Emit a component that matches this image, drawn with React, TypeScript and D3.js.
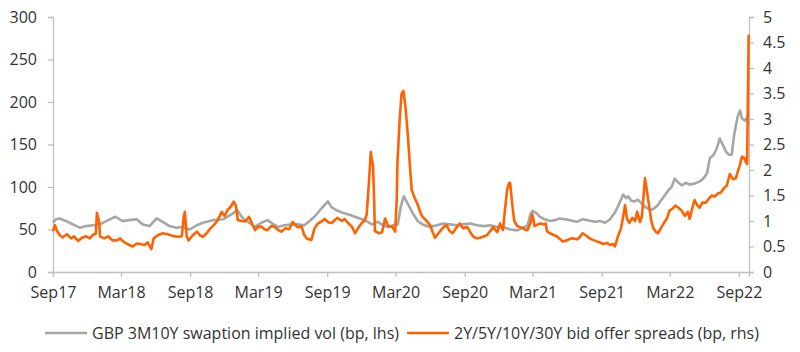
import { useEffect, useRef } from 'react';
import * as d3 from 'd3';

// GBP 3M10Y swaption implied vol (bp, lhs)
const volDates = [
  '2017-09-01', '2017-09-09', '2017-09-19', '2017-10-05', '2017-10-24', '2017-11-12', '2017-11-28',
  '2017-12-16', '2018-01-04', '2018-01-26', '2018-02-14', '2018-03-05', '2018-03-23', '2018-04-12',
  '2018-04-28', '2018-05-16', '2018-06-04', '2018-06-20', '2018-07-08', '2018-07-27', '2018-08-12',
  '2018-08-31', '2018-09-19', '2018-10-05', '2018-11-01', '2018-11-28', '2018-12-21', '2019-01-04',
  '2019-01-20', '2019-02-08', '2019-02-21', '2019-03-10', '2019-03-26', '2019-04-08', '2019-04-22',
  '2019-05-10', '2019-05-29', '2019-06-14', '2019-07-02', '2019-07-16', '2019-07-29', '2019-08-17',
  '2019-08-28', '2019-09-03', '2019-09-13', '2019-09-29', '2019-10-17', '2019-11-01', '2019-11-14',
  '2019-11-27', '2019-12-10', '2019-12-29', '2020-01-14', '2020-01-28', '2020-02-10', '2020-02-24',
  '2020-03-07', '2020-03-15', '2020-03-23', '2020-04-03', '2020-04-16', '2020-04-29', '2020-05-12',
  '2020-06-01', '2020-06-19', '2020-07-05', '2020-07-23', '2020-08-11', '2020-08-27', '2020-09-16',
  '2020-10-04', '2020-10-23', '2020-11-08', '2020-11-27', '2020-12-12', '2020-12-31', '2021-01-19',
  '2021-02-02', '2021-02-15', '2021-02-23', '2021-03-01', '2021-03-12', '2021-03-20', '2021-04-02',
  '2021-04-16', '2021-04-29', '2021-05-12', '2021-05-25', '2021-06-08', '2021-06-27', '2021-07-12',
  '2021-07-25', '2021-08-14', '2021-08-27', '2021-09-10', '2021-09-23', '2021-10-06', '2021-10-14',
  '2021-10-22', '2021-10-28', '2021-11-05', '2021-11-10', '2021-11-18', '2021-11-26', '2021-12-07',
  '2021-12-17', '2021-12-28', '2022-01-08', '2022-01-16', '2022-01-27', '2022-02-07', '2022-02-17',
  '2022-02-25', '2022-03-06', '2022-03-14', '2022-03-22', '2022-04-02', '2022-04-13', '2022-04-23',
  '2022-05-06', '2022-05-17', '2022-05-25', '2022-06-02', '2022-06-08', '2022-06-16', '2022-06-26',
  '2022-07-04', '2022-07-12', '2022-07-20', '2022-07-28', '2022-08-05', '2022-08-13', '2022-08-19',
  '2022-08-24', '2022-08-29', '2022-09-04', '2022-09-09', '2022-09-17', '2022-09-25',
];
const volValues = [
  58, 62, 63, 60, 56, 52, 54,
  55, 56, 61, 65, 60, 61, 62,
  56, 54, 63, 59, 54, 52, 53,
  50, 55, 58, 61, 62, 68, 73,
  63, 57, 53, 58, 61, 57, 53,
  55, 56, 56, 55, 60, 65, 75,
  80, 83, 76, 72, 69, 67, 65,
  63, 61, 56, 59, 55, 53, 55,
  56, 77, 89, 80, 69, 60, 56,
  53, 55, 57, 56, 55, 56, 57,
  55, 54, 55, 53, 53, 50, 49,
  52, 54, 68, 72, 69, 65, 62,
  60, 61, 63, 62, 61, 59, 62,
  61, 59, 60, 58, 62, 70, 77,
  85, 91, 87, 89, 84, 83, 85,
  80, 76, 73, 74, 78, 85, 91,
  96, 100, 110, 106, 102, 105, 103,
  104, 106, 108, 112, 116, 134, 138,
  145, 157, 150, 142, 138, 138, 160,
  172, 183, 190, 181, 178, 183,
];

// 2Y/5Y/10Y/30Y bid offer spreads (bp, rhs)
const spreadDates = [
  '2017-09-01', '2017-09-06', '2017-09-12', '2017-09-19', '2017-09-27', '2017-10-08', '2017-10-19',
  '2017-10-27', '2017-11-07', '2017-11-17', '2017-11-28', '2017-12-08', '2017-12-16', '2017-12-24',
  '2017-12-27', '2018-01-02', '2018-01-04', '2018-01-15', '2018-01-26', '2018-02-06', '2018-02-19',
  '2018-02-27', '2018-03-10', '2018-03-21', '2018-04-01', '2018-04-12', '2018-04-22', '2018-05-03',
  '2018-05-11', '2018-05-21', '2018-05-27', '2018-06-07', '2018-06-20', '2018-07-03', '2018-07-16',
  '2018-07-29', '2018-08-10', '2018-08-15', '2018-08-18', '2018-08-23', '2018-08-28', '2018-09-08',
  '2018-09-19', '2018-09-27', '2018-10-05', '2018-10-15', '2018-10-23', '2018-11-03', '2018-11-11',
  '2018-11-19', '2018-11-24', '2018-12-02', '2018-12-10', '2018-12-18', '2018-12-26', '2019-01-01',
  '2019-01-06', '2019-01-17', '2019-01-25', '2019-02-05', '2019-02-13', '2019-02-21', '2019-02-27',
  '2019-03-10', '2019-03-18', '2019-03-26', '2019-04-05', '2019-04-13', '2019-04-24', '2019-05-02',
  '2019-05-13', '2019-05-23', '2019-06-01', '2019-06-06', '2019-06-14', '2019-06-25', '2019-07-02',
  '2019-07-10', '2019-07-21', '2019-07-29', '2019-08-07', '2019-08-17', '2019-08-25', '2019-09-05',
  '2019-09-13', '2019-09-21', '2019-09-29', '2019-10-10', '2019-10-17', '2019-10-28', '2019-11-06',
  '2019-11-14', '2019-11-24', '2019-12-02', '2019-12-10', '2019-12-15', '2019-12-21', '2019-12-26',
  '2019-12-29', '2020-01-01', '2020-01-04', '2020-01-06', '2020-01-17', '2020-01-25', '2020-02-02',
  '2020-02-10', '2020-02-21', '2020-02-29', '2020-03-04', '2020-03-06', '2020-03-12', '2020-03-17',
  '2020-03-22', '2020-03-28', '2020-04-03', '2020-04-08', '2020-04-13', '2020-04-21', '2020-04-29',
  '2020-05-07', '2020-05-12', '2020-05-23', '2020-06-01', '2020-06-08', '2020-06-14', '2020-06-22',
  '2020-06-30', '2020-07-07', '2020-07-15', '2020-07-23', '2020-07-31', '2020-08-11', '2020-08-19',
  '2020-08-27', '2020-09-08', '2020-09-16', '2020-09-24', '2020-10-04', '2020-10-12', '2020-10-23',
  '2020-10-31', '2020-11-08', '2020-11-16', '2020-11-27', '2020-12-04', '2020-12-12', '2020-12-17',
  '2020-12-23', '2020-12-28', '2020-12-31', '2021-01-06', '2021-01-11', '2021-01-19', '2021-01-27',
  '2021-02-07', '2021-02-15', '2021-02-23', '2021-02-28', '2021-03-04', '2021-03-06', '2021-03-14',
  '2021-03-22', '2021-03-30', '2021-04-05', '2021-04-08', '2021-04-16', '2021-04-24', '2021-05-04',
  '2021-05-12', '2021-05-20', '2021-05-31', '2021-06-08', '2021-06-16', '2021-06-27', '2021-07-04',
  '2021-07-12', '2021-07-20', '2021-07-31', '2021-08-08', '2021-08-19', '2021-08-27', '2021-09-05',
  '2021-09-15', '2021-09-23', '2021-10-01', '2021-10-06', '2021-10-14', '2021-10-22', '2021-10-27',
  '2021-11-02', '2021-11-07', '2021-11-13', '2021-11-21', '2021-11-29', '2021-12-04', '2021-12-12',
  '2021-12-17', '2021-12-25', '2021-12-30', '2022-01-05', '2022-01-11', '2022-01-16', '2022-01-24',
  '2022-01-29', '2022-02-07', '2022-02-15', '2022-02-22', '2022-02-28', '2022-03-08', '2022-03-16',
  '2022-03-24', '2022-04-02', '2022-04-10', '2022-04-18', '2022-04-23', '2022-04-28', '2022-05-06',
  '2022-05-14', '2022-05-19', '2022-05-27', '2022-06-05', '2022-06-13', '2022-06-21', '2022-06-29',
  '2022-07-07', '2022-07-15', '2022-07-23', '2022-07-31', '2022-08-08', '2022-08-16', '2022-08-24',
  '2022-08-29', '2022-09-04', '2022-09-09', '2022-09-15', '2022-09-20', '2022-09-23', '2022-09-27',
];
const spreadValues = [
  0.80, 0.92, 0.80, 0.72, 0.68, 0.74, 0.66,
  0.70, 0.61, 0.67, 0.70, 0.66, 0.73, 0.75,
  1.16, 0.98, 0.70, 0.66, 0.70, 0.62, 0.62,
  0.66, 0.58, 0.54, 0.50, 0.56, 0.55, 0.53,
  0.58, 0.45, 0.66, 0.72, 0.76, 0.74, 0.71,
  0.69, 0.70, 1.08, 1.18, 0.70, 0.62, 0.72,
  0.79, 0.72, 0.69, 0.76, 0.84, 0.92, 0.99,
  1.10, 1.18, 1.10, 1.22, 1.28, 1.38, 1.30,
  1.02, 1.00, 0.99, 1.08, 0.95, 0.82, 0.88,
  0.89, 0.84, 0.82, 0.90, 0.89, 0.82, 0.79,
  0.86, 0.84, 0.98, 0.94, 0.88, 0.89, 0.72,
  0.65, 0.63, 0.85, 0.95, 0.99, 1.04, 0.97,
  0.96, 1.02, 1.06, 1.00, 1.04, 0.95, 0.89,
  0.76, 0.88, 0.96, 1.02, 1.12, 1.74, 2.35,
  2.20, 2.10, 1.40, 0.80, 0.76, 0.78, 1.05,
  0.90, 0.89, 0.79, 1.40, 2.14, 3.00, 3.50,
  3.55, 3.20, 2.65, 2.10, 1.61, 1.45, 1.32,
  1.15, 1.08, 1.00, 0.92, 0.78, 0.67, 0.75,
  0.82, 0.88, 0.92, 0.80, 0.76, 0.88, 0.95,
  0.86, 0.88, 0.78, 0.69, 0.66, 0.67, 0.70,
  0.73, 0.80, 0.88, 0.78, 0.95, 0.82, 1.20,
  1.61, 1.74, 1.75, 1.30, 1.00, 0.90, 0.88,
  0.84, 0.82, 0.95, 1.13, 1.00, 0.90, 0.93,
  0.95, 0.93, 0.95, 0.80, 0.76, 0.73, 0.70,
  0.65, 0.60, 0.62, 0.65, 0.66, 0.64, 0.68,
  0.76, 0.72, 0.66, 0.63, 0.60, 0.58, 0.55,
  0.57, 0.53, 0.55, 0.50, 0.70, 0.85, 1.05,
  1.31, 1.05, 0.96, 1.06, 1.00, 1.18, 0.98,
  1.10, 1.84, 1.60, 1.30, 1.00, 0.86, 0.78,
  0.76, 0.88, 0.98, 1.06, 1.20, 1.24, 1.30,
  1.26, 1.20, 1.10, 1.18, 1.04, 1.20, 1.41,
  1.30, 1.26, 1.36, 1.36, 1.44, 1.50, 1.48,
  1.54, 1.56, 1.64, 1.70, 1.92, 1.82, 1.84,
  1.97, 2.10, 2.26, 2.24, 2.15, 2.12, 4.65,
];

const xTickDates = [
  '2017-09-01', '2018-03-01', '2018-09-01', '2019-03-01', '2019-09-01', '2020-03-01',
  '2020-09-01', '2021-03-01', '2021-09-01', '2022-03-01', '2022-09-01',
];
const leftTicks = [0, 50, 100, 150, 200, 250, 300];
const rightTicks = [0, 0.5, 1, 1.5, 2, 2.5, 3, 3.5, 4, 4.5, 5];
const seriesNames = ['GBP 3M10Y swaption implied vol (bp, lhs)', '2Y/5Y/10Y/30Y bid offer spreads (bp, rhs)'];

const GREY = '#a6a6a6';
const ORANGE = '#ff6200';
const AXIS = '#bfbfbf';
const TEXT = '#333333';
const FONT = '"Open Sans", "DejaVu Sans", sans-serif';

export default function App() {
  const svgRef = useRef<SVGSVGElement>(null);
  const width = 800;
  const height = 352;

  useEffect(() => {
    if (!svgRef.current) return;
    const svg = d3.select(svgRef.current);
    svg.selectAll('*').remove();

    const margin = { top: 17, right: 51, bottom: 80, left: 53 };
    const innerW = width - margin.left - margin.right;
    const innerH = height - margin.top - margin.bottom;
    const parse = d3.timeParse('%Y-%m-%d');

    const x = d3.scaleTime()
      .domain([parse('2017-09-01') as Date, parse('2022-09-28') as Date])
      .range([0, innerW]);
    const yL = d3.scaleLinear().domain([0, 300]).range([innerH, 0]);
    const yR = d3.scaleLinear().domain([0, 5]).range([innerH, 0]);

    const g = svg.append('g').attr('transform', `translate(${margin.left},${margin.top})`);

    // Axes
    const fmtX = d3.timeFormat('%b%y');
    const xAxis = g.append('g')
      .attr('transform', `translate(0,${innerH})`)
      .call(d3.axisBottom(x)
        .tickValues(xTickDates.map(d => parse(d) as Date))
        .tickSize(5)
        .tickPadding(10)
        .tickFormat(d => fmtX(d as Date)));

    const leftAxis = g.append('g')
      .call(d3.axisLeft(yL).tickValues(leftTicks).tickSize(5).tickPadding(11));

    const rightAxis = g.append('g')
      .attr('transform', `translate(${innerW},0)`)
      .call(d3.axisRight(yR).tickValues(rightTicks).tickSize(5).tickPadding(9)
        .tickFormat(d => String(d)));

    [xAxis, leftAxis, rightAxis].forEach(a => {
      a.select('.domain').attr('stroke', AXIS).attr('stroke-width', 1.3);
      a.selectAll('.tick line').attr('stroke', AXIS).attr('stroke-width', 1.3);
      a.selectAll('.tick text')
        .attr('fill', TEXT)
        .attr('font-family', FONT)
        .attr('font-size', '16px');
    });

    // Series
    const volData = volDates.map((d, i) => ({ date: parse(d) as Date, value: volValues[i] }));
    const spreadData = spreadDates.map((d, i) => ({ date: parse(d) as Date, value: spreadValues[i] }));

    const volLine = d3.line<{ date: Date; value: number }>()
      .x(d => x(d.date))
      .y(d => yL(d.value));
    const spreadLine = d3.line<{ date: Date; value: number }>()
      .x(d => x(d.date))
      .y(d => yR(d.value));

    g.append('path')
      .datum(volData)
      .attr('fill', 'none')
      .attr('stroke', GREY)
      .attr('stroke-width', 2.6)
      .attr('stroke-linejoin', 'round')
      .attr('d', volLine);

    g.append('path')
      .datum(spreadData)
      .attr('fill', 'none')
      .attr('stroke', ORANGE)
      .attr('stroke-width', 2.6)
      .attr('stroke-linejoin', 'round')
      .attr('d', spreadLine);

    // Legend
    const legendY = 333;
    const legendItems = [
      { name: seriesNames[0], color: GREY, x: 45 },
      { name: seriesNames[1], color: ORANGE, x: 407 },
    ];
    legendItems.forEach(item => {
      const row = svg.append('g').attr('transform', `translate(${item.x},${legendY})`);
      row.append('line')
        .attr('x1', 0)
        .attr('x2', 42)
        .attr('stroke', item.color)
        .attr('stroke-width', 2.6);
      row.append('text')
        .attr('x', 47)
        .attr('dy', '0.35em')
        .attr('font-family', FONT)
        .attr('font-size', '16px')
        .attr('fill', TEXT)
        .text(item.name);
    });
  }, []);

  return (
    <svg
      ref={svgRef}
      width={width}
      height={height}
      style={{ position: 'absolute', left: 0, top: 0, background: '#fff' }}
    />
  );
}
